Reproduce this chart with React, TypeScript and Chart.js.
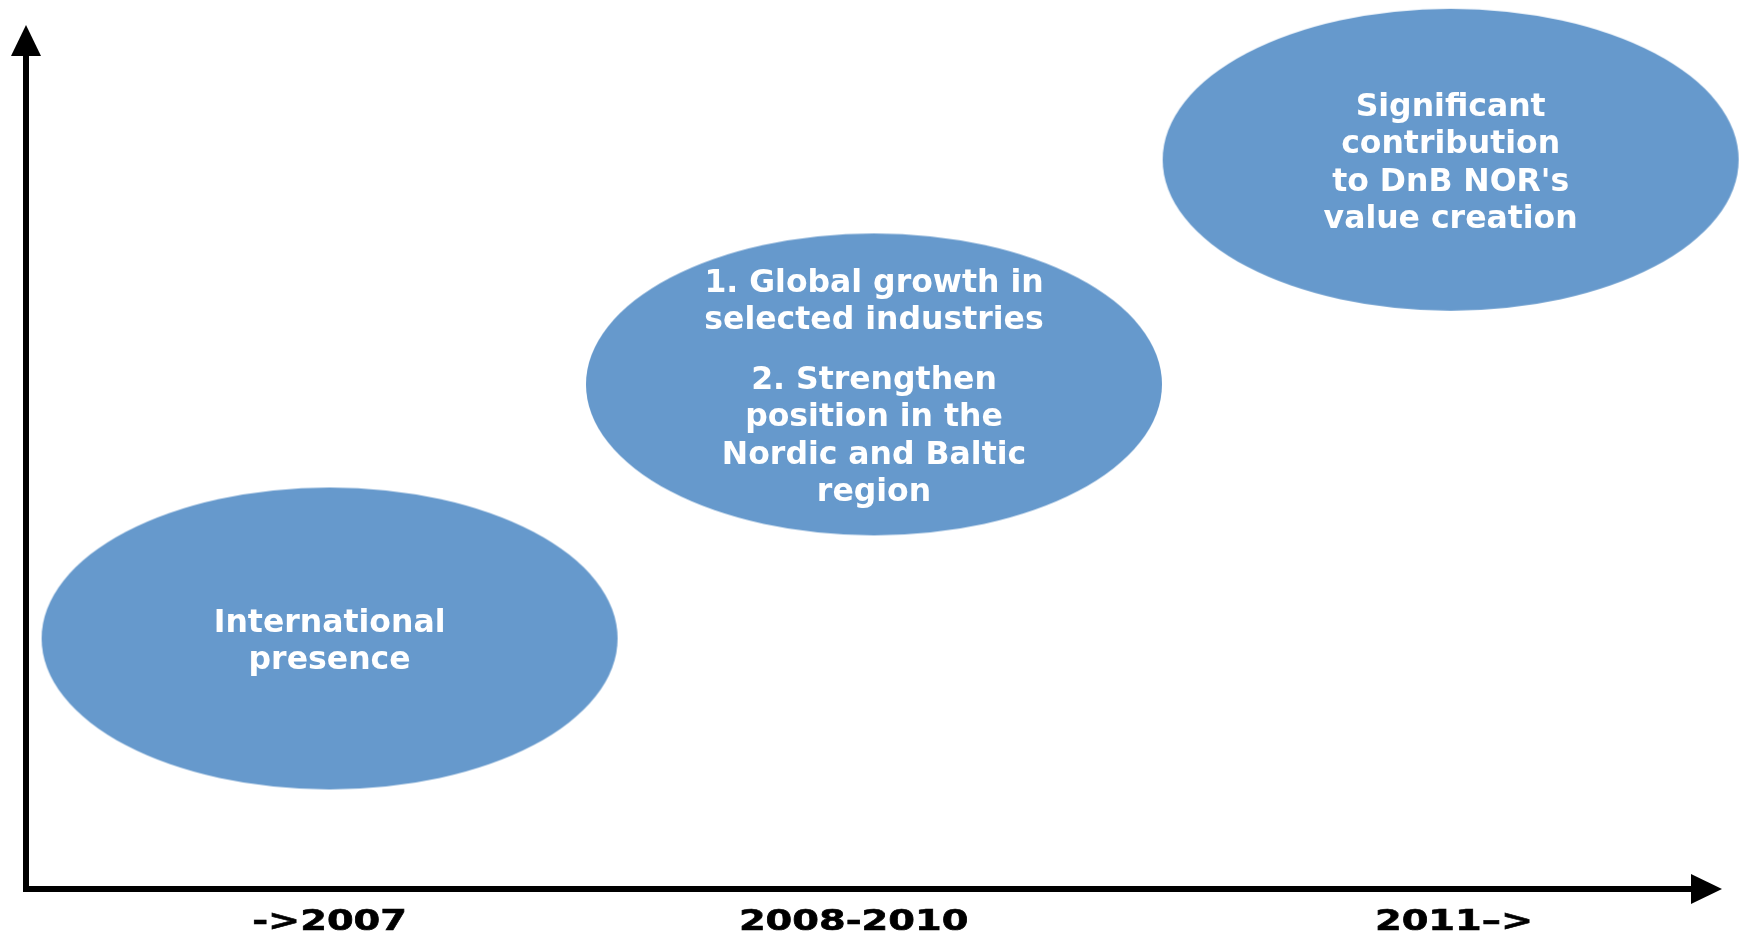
import React, { useEffect, useRef } from "react";
import { Chart, registerables } from "chart.js";

Chart.register(...registerables);

// Period labels on the horizontal axis and where they sit (scale units 0..100)
const periodLabels = ["->2007", "2008-2010", "2011–>"];
const periodTicks = [17.9, 48.8, 84.2];

// Stages: position along time (x) and ambition level (y), scale units 0..100
const stageX = [17.9, 50.0, 84.0];
const stageY = [29.0, 58.4, 84.4];

// Text of each stage (paragraphs of lines)
const stageTexts: string[][][] = [
  [["International", "presence"]],
  [
    ["1. Global growth in", "selected industries"],
    ["2. Strengthen", "position in the", "Nordic and Baltic", "region"],
  ],
  [["Significant", "contribution", "to DnB NOR's", "value creation"]],
];

const BLUE = "#6699cc";
const FONT = '"DejaVu Sans", Verdana, sans-serif';

function makeEllipse(rx: number, ry: number, color: string) {
  const c = document.createElement("canvas");
  c.width = Math.ceil(rx * 2 + 2);
  c.height = Math.ceil(ry * 2 + 2);
  const g = c.getContext("2d")!;
  g.fillStyle = color;
  g.beginPath();
  g.ellipse(c.width / 2, c.height / 2, rx, ry, 0, 0, Math.PI * 2);
  g.fill();
  return c;
}

const axesPlugin = {
  id: "arrowAxes",
  beforeDatasetsDraw(chart: any) {
    const { ctx, chartArea } = chart;
    const { left, right, top, bottom } = chartArea;
    const lw = 6;
    const head = 30;
    const half = 15;
    ctx.save();
    ctx.fillStyle = "#000";
    ctx.strokeStyle = "#000";
    // vertical axis
    ctx.fillRect(left - lw / 2, top + head, lw, bottom - top - head + lw / 2);
    ctx.beginPath();
    ctx.moveTo(left, top);
    ctx.lineTo(left - half, top + head + 1);
    ctx.lineTo(left + half, top + head + 1);
    ctx.closePath();
    ctx.fill();
    // horizontal axis
    ctx.fillRect(left - lw / 2, bottom - lw / 2, right - head - left + lw / 2, lw);
    ctx.beginPath();
    ctx.moveTo(right, bottom);
    ctx.lineTo(right - head - 1, bottom - half);
    ctx.lineTo(right - head - 1, bottom + half);
    ctx.closePath();
    ctx.fill();
    // period labels
    const xs = chart.scales.x;
    ctx.font = `bold 28px ${FONT}`;
    ctx.textAlign = "center";
    ctx.textBaseline = "alphabetic";
    ctx.lineWidth = 0.6;
    periodLabels.forEach((lab, i) => {
      const px = xs.getPixelForValue(periodTicks[i]);
      ctx.save();
      ctx.translate(px, bottom + 41);
      ctx.scale(1.37, 1);
      ctx.fillText(lab, 0, 0);
      ctx.strokeText(lab, 0, 0);
      ctx.restore();
    });
    ctx.restore();
  },
};

const textPlugin = {
  id: "stageText",
  afterDatasetsDraw(chart: any) {
    const { ctx } = chart;
    const meta = chart.getDatasetMeta(0);
    const lineH = 37.5;
    const paraGap = 22;
    ctx.save();
    ctx.fillStyle = "#ffffff";
    ctx.font = `bold 31.5px ${FONT}`;
    ctx.textAlign = "center";
    ctx.textBaseline = "alphabetic";
    meta.data.forEach((pt: any, i: number) => {
      const paras = stageTexts[i];
      const ys: number[] = [];
      let y = 0;
      paras.forEach((p, pi) => {
        if (pi > 0) y += paraGap;
        p.forEach((_l, li) => {
          if (li > 0 || pi > 0) y += lineH;
          ys.push(y);
        });
      });
      const span = ys[ys.length - 1];
      const start = pt.y + 12 - span / 2;
      const lines = paras.flat();
      lines.forEach((l, k) => ctx.fillText(l, pt.x, start + ys[k]));
    });
    ctx.restore();
  },
};

export default function App() {
  const ref = useRef<HTMLCanvasElement | null>(null);
  useEffect(() => {
    if (!ref.current) return;
    const ellipse = makeEllipse(288, 151, BLUE);
    const chart = new Chart(ref.current, {
      type: "scatter",
      data: {
        datasets: [
          {
            data: stageX.map((x, i) => ({ x, y: stageY[i] })),
            pointStyle: ellipse as any,
            pointRadius: 10,
            pointHoverRadius: 10,
            clip: false as any,
          },
        ],
      },
      options: {
        animation: false,
        responsive: false,
        devicePixelRatio: 1,
        events: [],
        layout: { padding: { left: 26, top: 25, right: 21, bottom: 53 } },
        plugins: { legend: { display: false }, tooltip: { enabled: false } },
        scales: {
          x: { type: "linear", min: 0, max: 100, display: false },
          y: { type: "linear", min: 0, max: 100, display: false },
        },
      },
      plugins: [axesPlugin, textPlugin],
    });
    return () => chart.destroy();
  }, []);
  return (
    <div style={{ position: "fixed", left: 0, top: 0, width: 1743, height: 942, background: "#fff" }}>
      <canvas ref={ref} width={1743} height={942} />
    </div>
  );
}
